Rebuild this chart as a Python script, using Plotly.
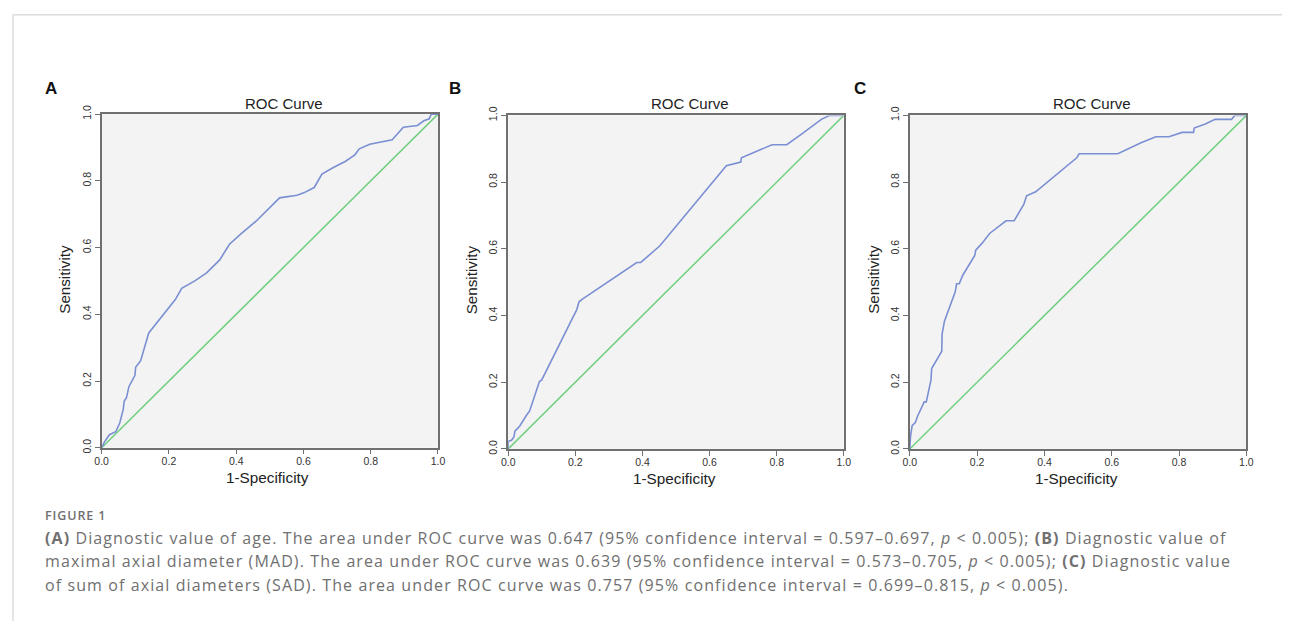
import plotly.graph_objects as go

W, H = 1289, 627

# ---- Data ----
A_fpr = [0.0, 0.008, 0.023, 0.042, 0.054, 0.064, 0.067, 0.074, 0.081, 0.099, 0.101, 0.116, 0.140, 0.179,
         0.219, 0.238, 0.277, 0.312, 0.351, 0.380, 0.415, 0.459, 0.493, 0.529, 0.581, 0.601, 0.632, 0.655,
         0.689, 0.724, 0.753, 0.766, 0.797, 0.827, 0.864, 0.897, 0.939, 0.958, 0.974, 0.980, 1.0]
A_tpr = [0.0, 0.017, 0.039, 0.048, 0.075, 0.114, 0.139, 0.151, 0.183, 0.217, 0.241, 0.261, 0.344, 0.393,
         0.444, 0.478, 0.500, 0.524, 0.563, 0.610, 0.642, 0.679, 0.713, 0.749, 0.757, 0.764, 0.780, 0.820,
         0.840, 0.858, 0.878, 0.896, 0.910, 0.915, 0.923, 0.961, 0.966, 0.980, 0.986, 1.0, 1.0]

B_fpr = [0.0, 0.0, 0.010, 0.017, 0.020, 0.034, 0.054, 0.064, 0.093, 0.100, 0.192, 0.204, 0.211, 0.221,
         0.383, 0.395, 0.452, 0.650, 0.693, 0.695, 0.786, 0.830, 0.874, 0.933, 0.958, 1.0]
B_tpr = [0.0, 0.023, 0.026, 0.036, 0.053, 0.068, 0.100, 0.114, 0.202, 0.207, 0.393, 0.417, 0.441, 0.449,
         0.559, 0.559, 0.609, 0.849, 0.860, 0.873, 0.912, 0.912, 0.944, 0.988, 1.0, 1.0]

C_fpr = [0.0, 0.002, 0.007, 0.017, 0.023, 0.043, 0.049, 0.063, 0.065, 0.088, 0.095, 0.096, 0.103, 0.135,
         0.139, 0.147, 0.157, 0.193, 0.196, 0.215, 0.237, 0.286, 0.310, 0.339, 0.347, 0.374, 0.496, 0.503,
         0.618, 0.687, 0.731, 0.770, 0.809, 0.843, 0.845, 0.878, 0.907, 0.956, 0.965, 1.0]
C_tpr = [0.0, 0.036, 0.070, 0.080, 0.098, 0.141, 0.141, 0.207, 0.241, 0.280, 0.293, 0.344, 0.383, 0.471,
         0.495, 0.495, 0.520, 0.580, 0.596, 0.617, 0.646, 0.684, 0.684, 0.734, 0.759, 0.771, 0.873, 0.885,
         0.885, 0.918, 0.936, 0.936, 0.949, 0.949, 0.962, 0.974, 0.988, 0.988, 1.0, 1.0]

ref_line = [0.0, 1.0]
tick_vals = [0.0, 0.2, 0.4, 0.6, 0.8, 1.0]
tick_text = ["0.0", "0.2", "0.4", "0.6", "0.8", "1.0"]
panel_letters = ["A", "B", "C"]
chart_title = "ROC Curve"
x_title = "1-Specificity"
y_title = "Sensitivity"

caption_head = "FIGURE 1"
caption_lines = [
    "<b>(A)</b> Diagnostic value of age. The area under ROC curve was 0.647 (95% confidence interval = 0.597\u20130.697, <i>p</i> &lt; 0.005); <b>(B)</b> Diagnostic value of",
    "maximal axial diameter (MAD). The area under ROC curve was 0.639 (95% confidence interval = 0.573\u20130.705, <i>p</i> &lt; 0.005); <b>(C)</b> Diagnostic value",
    "of sum of axial diameters (SAD). The area under ROC curve was 0.757 (95% confidence interval = 0.699\u20130.815, <i>p</i> &lt; 0.005).",
]

# ---- Layout geometry (pixels of the 1289x627 page) ----
panels = [
    dict(fpr=A_fpr, tpr=A_tpr, x0=95.7, x1=435.7, y0=107.7, y1=449.5,
         letter=(44, 81), title=(280, 97), xt=(263, 480), yt=(58, 277)),
    dict(fpr=B_fpr, tpr=B_tpr, x0=506.7, x1=846.0, y0=109.0, y1=450.7,
         letter=(453, 81), title=(691, 97), xt=(675, 481), yt=(469, 277)),
    dict(fpr=C_fpr, tpr=C_tpr, x0=912.7, x1=1253.0, y0=109.0, y1=450.7,
         letter=(862, 81), title=(1097, 97), xt=(1081, 481), yt=(876, 277)),
]

def px(x):
    return x / W

def py(y):
    return 1 - y / H

BLUE = "#7b8fd3"
GREEN = "#6fcf7e"
AXIS = "#707070"
CHART_FONT = "Liberation Sans, Arial, sans-serif"
CAP_FONT = "Open Sans, sans-serif"
CAP_COLOR = "#707070"

fig = go.Figure()
annotations = []
shapes = []

for i, p in enumerate(panels):
    n = "" if i == 0 else str(i + 1)
    xa, ya = "x" + n, "y" + n
    fig.add_trace(go.Scatter(x=ref_line, y=ref_line, mode="lines", xaxis=xa, yaxis=ya,
                             line=dict(color=GREEN, width=1.5), showlegend=False, hoverinfo="skip"))
    fig.add_trace(go.Scatter(x=p["fpr"], y=p["tpr"], mode="lines", xaxis=xa, yaxis=ya,
                             line=dict(color=BLUE, width=1.6), showlegend=False))
    common = dict(range=[0, 1], tickvals=tick_vals, ticktext=tick_text, showgrid=False, zeroline=False,
                  showline=True, mirror=True, linecolor=AXIS, linewidth=1.5, ticks="outside",
                  ticklen=5, tickwidth=1.2, tickcolor=AXIS,
                  tickfont=dict(family=CHART_FONT, size=10.5, color="#333333"), fixedrange=True)
    fig.layout["xaxis" + n] = dict(common, domain=[px(p["x0"]), px(p["x1"])], anchor=ya,
                                   ticklabelstandoff=-2)
    fig.layout["yaxis" + n] = dict(common, domain=[py(p["y1"]), py(p["y0"])], anchor=xa, tickangle=-90)

    annotations += [
        dict(text=f"<b>{panel_letters[i]}</b>", x=px(p["letter"][0]), y=py(p["letter"][1]),
             font=dict(family=CHART_FONT, size=17, color="#111111")),
        dict(text=chart_title, x=px(p["title"][0]), y=py(p["title"][1]),
             font=dict(family=CHART_FONT, size=15, color="#222222")),
        dict(text=x_title, x=px(p["xt"][0]), y=py(p["xt"][1]),
             font=dict(family=CHART_FONT, size=15.3, color="#222222")),
        dict(text=y_title, x=px(p["yt"][0]), y=py(p["yt"][1]), textangle=-90,
             font=dict(family=CHART_FONT, size=15.2, color="#222222")),
    ]

for a in annotations:
    a.update(xref="paper", yref="paper", showarrow=False, xanchor="center", yanchor="middle")

annotations.append(dict(text=f"<span style='letter-spacing:0.9px'>{caption_head}</span>",
                        x=px(36), y=py(519), xref="paper", yref="paper",
                        showarrow=False, xanchor="left", yanchor="middle",
                        font=dict(family=CAP_FONT, size=12.5, color=CAP_COLOR, weight=600)))
for k, line in enumerate(caption_lines):
    annotations.append(dict(text=f"<span style='letter-spacing:1.1px'>{line}</span>",
                            x=px(36), y=py(542 + 24 * k), xref="paper", yref="paper",
                            showarrow=False, xanchor="left", yanchor="middle",
                            font=dict(family=CAP_FONT, size=16, color=CAP_COLOR)))

# page card border (top and left)
shapes += [
    dict(type="line", xref="paper", yref="paper", x0=px(6), x1=1, y0=py(6), y1=py(6),
         line=dict(color="#dcdcdc", width=1.5)),
    dict(type="line", xref="paper", yref="paper", x0=px(6), x1=px(6), y0=0, y1=py(6),
         line=dict(color="#dcdcdc", width=1.5)),
]

fig.update_layout(autosize=True, margin=dict(l=0, r=0, t=0, b=0),
                  paper_bgcolor="white", plot_bgcolor="#f3f3f3",
                  annotations=annotations, shapes=shapes, showlegend=False)

post = (
    "var s=document.createElement('style');"
    "s.textContent='html,body{margin:0;padding:0;height:100%;overflow:hidden;}';"
    "document.head.appendChild(s);"
    "var gd=document.getElementById('{plot_id}');"
    "if(gd.parentElement){gd.parentElement.style.height='100%';gd.parentElement.style.width='100%';}"
    "gd.style.height='100%';gd.style.width='100%';"
    "Plotly.Plots.resize(gd);"
)

fig.write_html("out.html", config={"displayModeBar": False, "responsive": True},
               default_width="100%", default_height="100%", post_script=post)
